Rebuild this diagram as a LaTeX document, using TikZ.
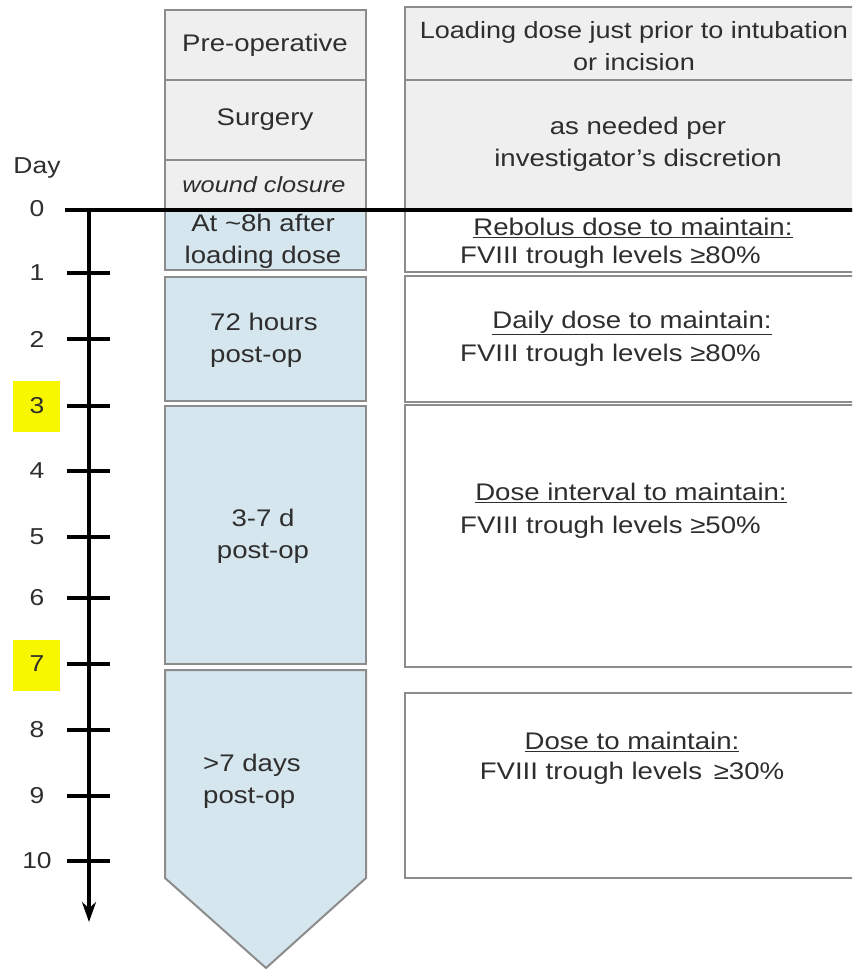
\documentclass[tikz,border=0pt]{standalone}
\usepackage{fontspec}
\setmainfont{Liberation Sans}[FakeStretch=1.15]
\usetikzlibrary{arrows.meta}
\definecolor{greyfill}{HTML}{EFEFEF}
\definecolor{bluefill}{HTML}{D6E6EE}
\definecolor{bordercol}{HTML}{8C8C8C}
\definecolor{textcol}{HTML}{2E2E2E}
\definecolor{hilite}{HTML}{F7F700}
\begin{document}
\begin{tikzpicture}[x=1pt,y=-1pt,
  box/.style={draw=bordercol, line width=2pt, anchor=north west, inner sep=0pt, outer sep=0pt},
  lbl/.style={text=textcol, font=\fontsize{24}{32}\selectfont, inner sep=0pt, align=center},
  numlbl/.style={text=textcol, font=\fontsize{23}{28}\selectfont, inner sep=0pt},
  axis/.style={line width=3.5pt, black},
  tickline/.style={line width=3.5pt, black}]
\clip (0,0) rectangle (852,969);
\fill[white] (0,0) rectangle (852,969);
% right column boxes
\node[box, fill=greyfill, minimum width=465pt, minimum height=73pt] (r1) at (405,7) {};
\node[box, fill=greyfill, minimum width=465pt, minimum height=130pt] (r2) at (405,80) {};
\node[box, fill=white, minimum width=465pt, minimum height=62pt] (r3) at (405,210) {};
\node[box, fill=white, minimum width=465pt, minimum height=126pt] (r4) at (405,276) {};
\node[box, fill=white, minimum width=465pt, minimum height=262pt] (r5) at (405,405) {};
\node[box, fill=white, minimum width=465pt, minimum height=185pt] (r6) at (405,693) {};
% left column boxes
\node[box, fill=greyfill, minimum width=201pt, minimum height=70pt] (l1) at (165,10) {};
\node[box, fill=greyfill, minimum width=201pt, minimum height=80pt] (l2) at (165,80) {};
\node[box, fill=greyfill, minimum width=201pt, minimum height=50pt] (l3) at (165,160) {};
\node[box, fill=bluefill, minimum width=201pt, minimum height=60pt] (b1) at (165,210) {};
\node[box, fill=bluefill, minimum width=201pt, minimum height=124pt] (b2) at (165,277) {};
\node[box, fill=bluefill, minimum width=201pt, minimum height=258pt] (b3) at (165,406) {};
\draw[draw=bordercol, line width=2pt, fill=bluefill] (165,670) -- (366,670) -- (366,878) -- (266,968) -- (165,878) -- cycle;
% left texts
\node[lbl] (tpre) at (265,45) {Pre-operative};
\node[lbl] (tsurg) at (265,120) {Surgery};
\node[lbl, font=\fontsize{22}{28}\itshape] (twound) at (264,185) {wound closure};
\node[lbl] (t8h) at (263,241) {At \textasciitilde8h after\\loading dose};
\node[lbl, align=left, anchor=west] (t72) at (210,340) {72 hours\\post-op};
\node[lbl] (t37) at (263,536) {3-7 d\\post-op};
\node[lbl, align=left, anchor=west] (t7d) at (203,781) {>7 days\\post-op};
% right texts
\node[lbl, font=\fontsize{23.5}{32}\selectfont] (tload) at (634,46) {Loading dose just prior to intubation\\or incision};
\node[lbl] (tneed) at (638,144) {as needed per\\investigator’s discretion};
\node[lbl] (treb) at (633,228) {\underline{Rebolus dose to maintain:}};
\node[lbl, anchor=west] (treb2) at (460,257) {FVIII trough levels ≥80\%};
\node[lbl] (tdaily) at (632,323) {\underline{Daily dose to maintain:}};
\node[lbl, anchor=west] (tdaily2) at (460,355) {FVIII trough levels ≥80\%};
\node[lbl] (tint) at (631,493) {\underline{Dose interval to maintain:}};
\node[lbl, anchor=west] (tint2) at (460,527) {FVIII trough levels ≥50\%};
\node[lbl] (tdose) at (632,742) {\underline{Dose to maintain:}};
\node[lbl] (tdose2) at (632,773) {FVIII trough levels \,≥30\%};
% highlights
\fill[hilite] (13,381) rectangle (60,432);
\fill[hilite] (13,640) rectangle (60,691);
% axis
\coordinate (h0) at (65,210);
\coordinate (h1) at (860,210);
\coordinate (vtop) at (89,210);
\coordinate (vend) at (89,922);
\draw[axis] (h0) -- (h1);
\draw[axis, -{Stealth[length=20pt,width=14pt]}] (vtop) -- (vend);
\foreach \yy [count=\i] in {273,339,406,471,537,598,664,730,796,861} {
  \coordinate (tl\i) at (67,\yy);
  \coordinate (tr\i) at (110,\yy);
  \draw[tickline] (tl\i) -- (tr\i);
  \node[numlbl] (n\i) at (37,\yy) {\i};
}
\node[numlbl] (n0) at (37,209) {0};
\node[numlbl] (day) at (37,168) {Day};
\end{tikzpicture}
\end{document}
